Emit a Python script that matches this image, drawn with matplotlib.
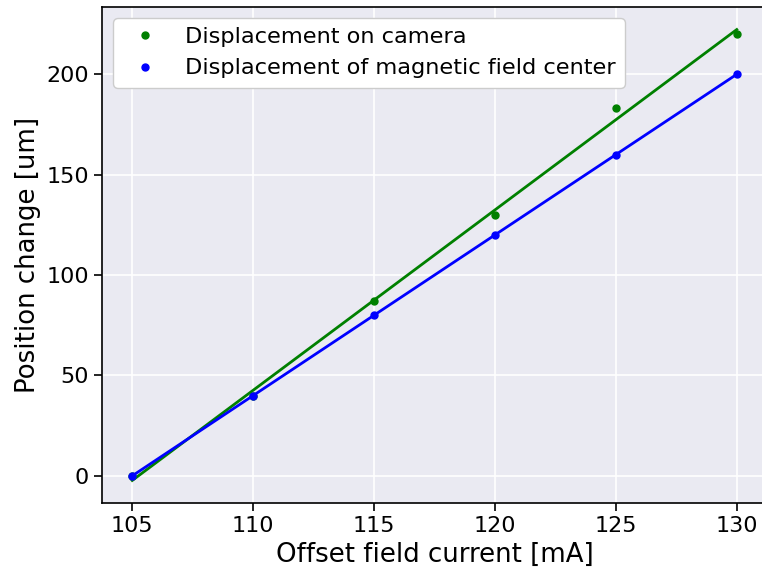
import numpy as np
import matplotlib.pyplot as plt

# offset field current [mA] and measured position change [um]
current = [105, 110, 115, 120, 125, 130]
camera_disp = [0, 40, 87, 130, 183, 220]
field_center_disp = [0, 40, 80, 120, 160, 200]

fig = plt.figure(figsize=(7.62, 5.71), dpi=100)
ax = fig.add_axes([102/762, 68/571, 665/762, 496/571])
ax.set_facecolor('#eaeaf2')
ax.grid(True, color='white', linewidth=1.2)
ax.set_axisbelow(True)
for s in ax.spines.values():
    s.set_color('black')
    s.set_linewidth(1.2)

x = np.array(current)

# linear fits for both data sets
p_cam = np.polyfit(x, camera_disp, 1)
p_field = np.polyfit(x, field_center_disp, 1)

ax.plot(x, np.polyval(p_cam, x), color='green', linewidth=2)
ax.plot(x, camera_disp, 'o', color='green', markersize=5, label='Displacement on camera')
ax.plot(x, np.polyval(p_field, x), color='blue', linewidth=2)
ax.plot(x, field_center_disp, 'o', color='blue', markersize=5,
        label='Displacement of magnetic field center')

ax.set_xticks([105, 110, 115, 120, 125, 130])
ax.set_yticks([0, 50, 100, 150, 200])
ax.tick_params(labelsize=16, length=6, width=1.2)
ax.set_xlabel('Offset field current [mA]', fontsize=18.7)
ax.set_ylabel('Position change [um]', fontsize=18.7)
ax.legend(loc='upper left', fontsize=16.2, facecolor='white', framealpha=1)

fig.savefig('out.png', dpi=100)
